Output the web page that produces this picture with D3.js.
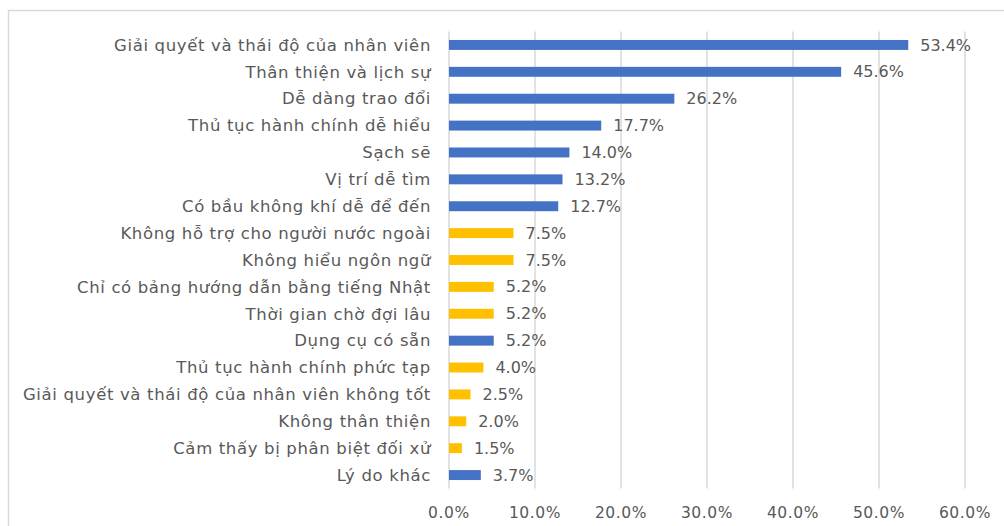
<!DOCTYPE html>
<html>
<head>
<meta charset="utf-8">
<script src="https://cdn.jsdelivr.net/npm/d3@7"></script>
<style>
  body { margin: 0; background: #fff; }
  svg text { font-family: "DejaVu Sans", Verdana, sans-serif; fill: #595959; }
</style>
</head>
<body>
<svg id="chart" width="1004" height="526"></svg>
<script>
// categories, top to bottom
var categories = [
  "Giải quyết và thái độ của nhân viên",
  "Thân thiện và lịch sự",
  "Dễ dàng trao đổi",
  "Thủ tục hành chính dễ hiểu",
  "Sạch sẽ",
  "Vị trí dễ tìm",
  "Có bầu không khí dễ để đến",
  "Không hỗ trợ cho người nước ngoài",
  "Không hiểu ngôn ngữ",
  "Chỉ có bảng hướng dẫn bằng tiếng Nhật",
  "Thời gian chờ đợi lâu",
  "Dụng cụ có sẵn",
  "Thủ tục hành chính phức tạp",
  "Giải quyết và thái độ của nhân viên không tốt",
  "Không thân thiện",
  "Cảm thấy bị phân biệt đối xử",
  "Lý do khác"
];
var values = [53.4, 45.6, 26.2, 17.7, 14.0, 13.2, 12.7, 7.5, 7.5, 5.2, 5.2, 5.2, 4.0, 2.5, 2.0, 1.5, 3.7];
// "pos" = blue, "neg" = yellow
var groups = ["pos", "pos", "pos", "pos", "pos", "pos", "pos", "neg", "neg", "neg", "neg", "pos", "neg", "neg", "neg", "neg", "pos"];
var xTicks = [0, 10, 20, 30, 40, 50, 60];

var colors = { pos: "#4472C4", neg: "#FFC000" };

(function() {
  var svg = d3.select("#chart");

  // chart frame (cut off at right and bottom like the source)
  svg.append("rect")
    .attr("x", 8.5).attr("y", 10.5)
    .attr("width", 1010).attr("height", 530)
    .attr("fill", "none")
    .attr("stroke", "#d9d9d9")
    .attr("stroke-width", 1.5);

  var plotLeft = 449, plotRight = 965, plotTop = 31.5, plotBottom = 488.5;

  var x = d3.scaleLinear().domain([0, 60]).range([plotLeft, plotRight]);
  var y = d3.scaleBand().domain(categories).range([plotTop, plotBottom])
    .paddingInner(0.63).paddingOuter(0.315);

  // gridlines
  svg.append("g")
    .selectAll("line")
    .data(xTicks)
    .enter().append("line")
    .attr("x1", function(d) { return x(d); })
    .attr("x2", function(d) { return x(d); })
    .attr("y1", plotTop)
    .attr("y2", plotBottom)
    .attr("stroke", "#d9d9d9")
    .attr("stroke-width", 1.5);

  // x tick labels
  svg.append("g")
    .selectAll("text")
    .data(xTicks)
    .enter().append("text")
    .attr("x", function(d) { return x(d); })
    .attr("y", 518)
    .attr("text-anchor", "middle")
    .style("font-size", "15.5px")
    .style("letter-spacing", "0.6px")
    .text(function(d) { return d.toFixed(1) + "%"; });

  // bars
  svg.append("g")
    .selectAll("rect")
    .data(values)
    .enter().append("rect")
    .attr("x", x(0))
    .attr("y", function(d, i) { return y(categories[i]); })
    .attr("width", function(d) { return x(d) - x(0); })
    .attr("height", y.bandwidth())
    .attr("fill", function(d, i) { return colors[groups[i]]; });

  // category labels
  svg.append("g")
    .selectAll("text")
    .data(categories)
    .enter().append("text")
    .attr("x", 431)
    .attr("y", function(d) { return y(d) + y.bandwidth() / 2; })
    .attr("dy", "0.35em")
    .attr("text-anchor", "end")
    .style("font-size", "16.5px")
    .style("letter-spacing", "0.65px")
    .text(function(d) { return d; });

  // value labels
  svg.append("g")
    .selectAll("text")
    .data(values)
    .enter().append("text")
    .attr("x", function(d) { return x(d) + 12; })
    .attr("y", function(d, i) { return y(categories[i]) + y.bandwidth() / 2; })
    .attr("dy", "0.35em")
    .style("font-size", "16px")
    .text(function(d) { return d.toFixed(1) + "%"; });
})();
</script>
</body>
</html>
